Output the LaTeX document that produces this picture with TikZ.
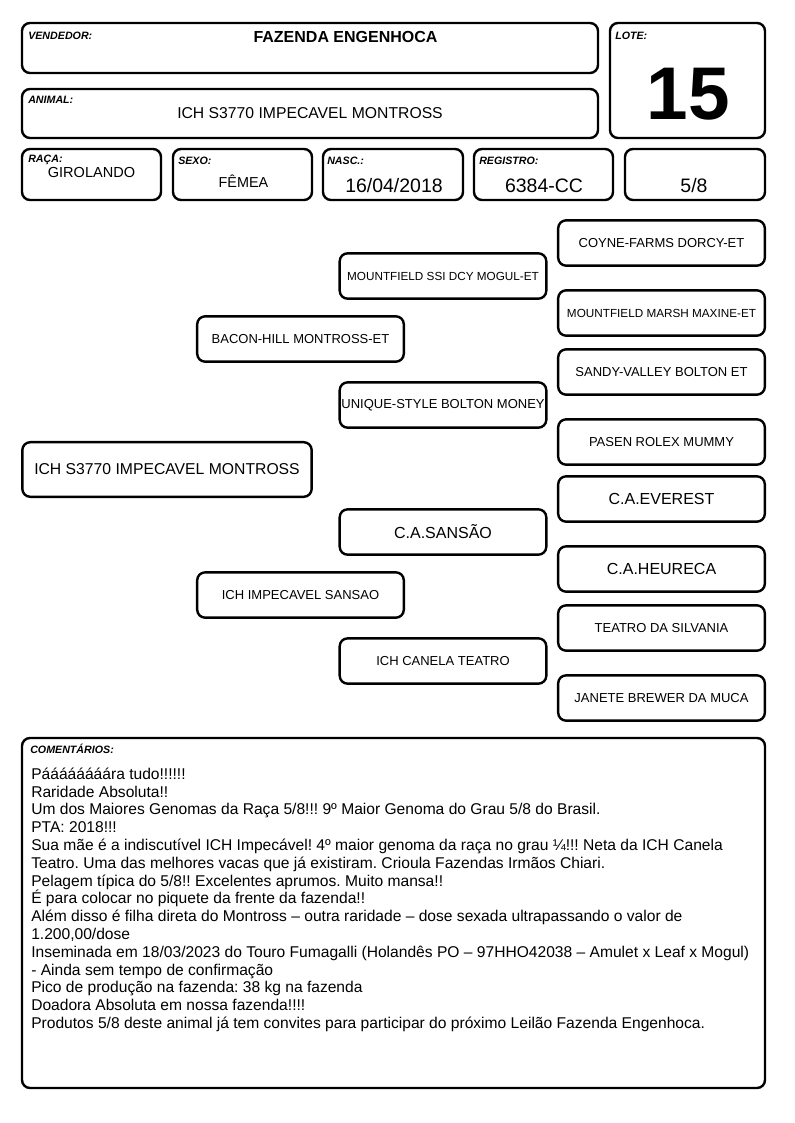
\documentclass[tikz,border=0pt]{standalone}
\usepackage{fontspec}
\setmainfont{Liberation Sans}
\usetikzlibrary{positioning}
\frenchspacing

\tikzset{
  box/.style={draw, line width=1.8pt, rounded corners=6pt},
  pedbox/.style={box, minimum width=155pt, minimum height=34pt, inner sep=0pt,
    font=\fontsize{9.75}{11}\selectfont},
  tag/.style={anchor=base west, inner sep=0pt, font=\fontsize{8}{9}\selectfont\bfseries\itshape},
  val/.style={anchor=base, inner sep=0pt},
}

\begin{document}
\begin{tikzpicture}[x=0.75pt, y=-0.75pt]
  \useasboundingbox (0,0) rectangle (794,1123);

  % cabecalho
  \draw[box] (22,23) rectangle (598,73);
  \draw[box] (610,23) rectangle (765,138);
  \draw[box] (22,89) rectangle (598,138);
  \draw[box] (22,149) rectangle (161,200);
  \draw[box] (173,149) rectangle (312,200);
  \draw[box] (323,149) rectangle (463,200);
  \draw[box] (474,149) rectangle (613,200);
  \draw[box] (625,149) rectangle (765,200);

  \node[tag] (vendedortag) at (28,39.5) {VENDEDOR:};
  \node[val, font=\fontsize{12}{14}\selectfont\bfseries] (vendedor) at (345.5,43) {FAZENDA ENGENHOCA};
  \node[tag] (lotetag) at (615,39.5) {LOTE:};
  \node[val, font=\fontsize{56}{56}\selectfont\bfseries] (lote) at (688.5,120) {15};
  \node[tag] (animaltag) at (28,104) {ANIMAL:};
  \node[val, font=\fontsize{11.8}{14}\selectfont] (animal) at (310,119) {ICH S3770 IMPECAVEL MONTROSS};

  \node[tag] (racatag) at (28,162.5) {RAÇA:};
  \node[val, font=\fontsize{10.9}{13}\selectfont] (raca) at (91.5,178) {GIROLANDO};
  \node[tag] (sexotag) at (178,165) {SEXO:};
  \node[val, font=\fontsize{10.8}{13}\selectfont] (sexo) at (243.5,188) {FÊMEA};
  \node[tag] (nasctag) at (327,165) {NASC.:};
  \node[val, font=\fontsize{14.6}{17}\selectfont] (nasc) at (394,193) {16/04/2018};
  \node[tag] (registrotag) at (479,165) {REGISTRO:};
  \node[val, font=\fontsize{14.6}{17}\selectfont] (registro) at (544,193) {6384-CC};
  \node[val, font=\fontsize{14.6}{17}\selectfont] (grau) at (694,193) {5/8};

  % genealogia
  \node[box, minimum width=217pt, minimum height=41pt, inner sep=0pt,
    font=\fontsize{11.8}{14}\selectfont] (filha) at (167,469.5) {ICH S3770 IMPECAVEL MONTROSS};

  \node[pedbox] (pai) at (300.5,339) {BACON-HILL MONTROSS-ET};
  \node[pedbox] (mae) at (300.5,595) {ICH IMPECAVEL SANSAO};

  \node[pedbox, font=\fontsize{8.8}{10}\selectfont] (avo1) at (443,276) {MOUNTFIELD SSI DCY MOGUL-ET};
  \node[pedbox] (avo2) at (443,405) {UNIQUE-STYLE BOLTON MONEY};
  \node[pedbox, font=\fontsize{12}{14}\selectfont] (avo3) at (443,532) {C.A.SANSÃO};
  \node[pedbox] (avo4) at (443,661) {ICH CANELA TEATRO};

  \node[pedbox] (bis1) at (661.5,243) {COYNE-FARMS DORCY-ET};
  \node[pedbox, font=\fontsize{8.8}{10}\selectfont] (bis2) at (661.5,313) {MOUNTFIELD MARSH MAXINE-ET};
  \node[pedbox] (bis3) at (661.5,372) {SANDY-VALLEY BOLTON ET};
  \node[pedbox] (bis4) at (661.5,442) {PASEN ROLEX MUMMY};
  \node[pedbox, font=\fontsize{12}{14}\selectfont] (bis5) at (661.5,499) {C.A.EVEREST};
  \node[pedbox, font=\fontsize{12}{14}\selectfont] (bis6) at (661.5,569) {C.A.HEURECA};
  \node[pedbox] (bis7) at (661.5,628) {TEATRO DA SILVANIA};
  \node[pedbox] (bis8) at (661.5,698) {JANETE BREWER DA MUCA};

  % comentarios
  \draw[box] (22,738) rectangle (765,1088);
  \node[tag] (comentariostag) at (30,753) {COMENTÁRIOS:};
  \node[anchor=north west, inner sep=0pt, align=left,
    font=\fontsize{11.7}{13.35}\selectfont] (comentarios) at (31,767.5) {%
    Páááááááára tudo!!!!!!\\
    Raridade Absoluta!!\\
    Um dos Maiores Genomas da Raça 5/8!!! 9º Maior Genoma do Grau 5/8 do Brasil.\\
    PTA: 2018!!!\\
    Sua mãe é a indiscutível ICH Impecável! 4º maior genoma da raça no grau ¼!!! Neta da ICH Canela\\
    Teatro. Uma das melhores vacas que já existiram. Crioula Fazendas Irmãos Chiari.\\
    Pelagem típica do 5/8!! Excelentes aprumos. Muito mansa!!\\
    É para colocar no piquete da frente da fazenda!!\\
    Além disso é filha direta do Montross – outra raridade – dose sexada ultrapassando o valor de\\
    1.200,00/dose\\
    Inseminada em 18/03/2023 do Touro Fumagalli (Holandês PO – 97HHO42038 – Amulet x Leaf x Mogul)\\
    - Ainda sem tempo de confirmação\\
    Pico de produção na fazenda: 38 kg na fazenda\\
    Doadora Absoluta em nossa fazenda!!!!\\
    Produtos 5/8 deste animal já tem convites para participar do próximo Leilão Fazenda Engenhoca.};
\end{tikzpicture}
\end{document}
